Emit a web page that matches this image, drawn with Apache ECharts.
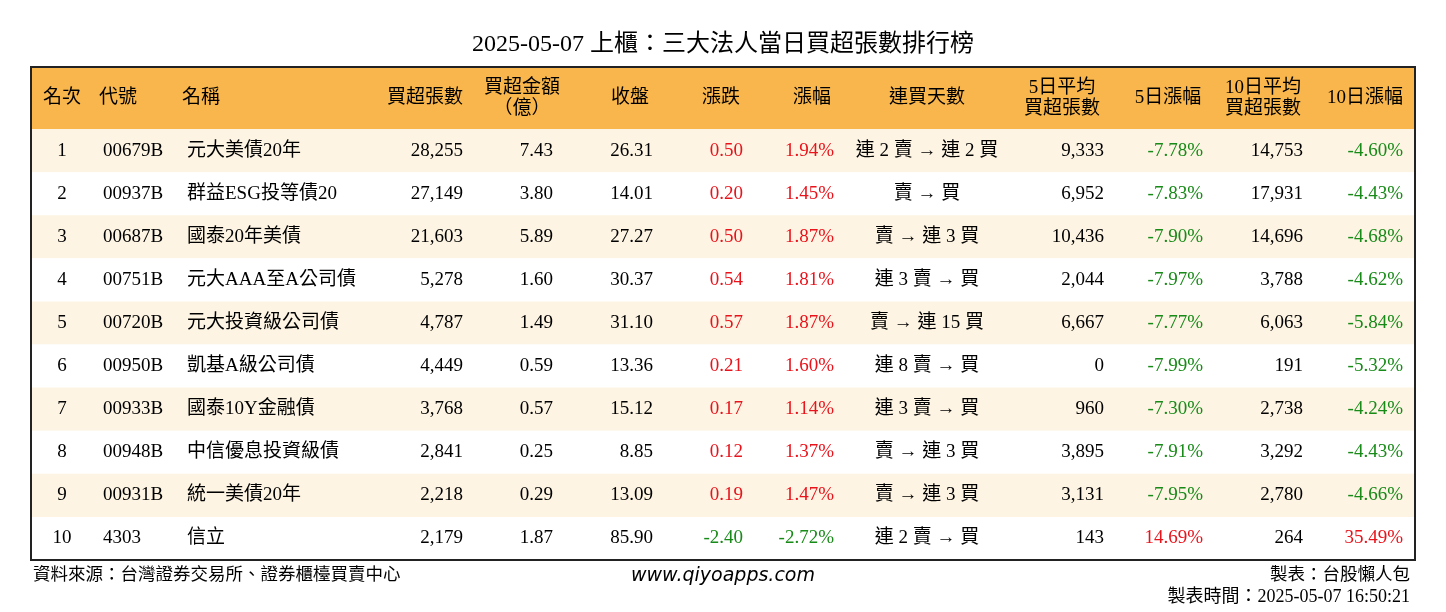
<!DOCTYPE html>
<html><head><meta charset="utf-8">
<script src="https://cdn.jsdelivr.net/npm/echarts@6/dist/echarts.min.js"></script>
<style>html,body{margin:0;background:#fff}#c{width:1446px;height:612px}</style>
</head><body><div id="c"></div>
<script>
const headers = ['名次','代號','名稱','買超張數','買超金額\n（億）','收盤','漲跌','漲幅','連買天數','5日平均\n買超張數','5日漲幅','10日平均\n買超張數','10日漲幅'];
const ranks = [1,2,3,4,5,6,7,8,9,10];
const codes = ['00679B','00937B','00687B','00751B','00720B','00950B','00933B','00948B','00931B','4303'];
const names = ['元大美債20年','群益ESG投等債20','國泰20年美債','元大AAA至A公司債','元大投資級公司債','凱基A級公司債','國泰10Y金融債','中信優息投資級債','統一美債20年','信立'];
const netBuy = [28255,27149,21603,5278,4787,4449,3768,2841,2218,2179];
const amount = [7.43,3.80,5.89,1.60,1.49,0.59,0.57,0.25,0.29,1.87];
const closePx = [26.31,14.01,27.27,30.37,31.10,13.36,15.12,8.85,13.09,85.90];
const change = [0.50,0.20,0.50,0.54,0.57,0.21,0.17,0.12,0.19,-2.40];
const changePct = [1.94,1.45,1.87,1.81,1.87,1.60,1.14,1.37,1.47,-2.72];
const streak = ['連 2 賣 → 連 2 買','賣 → 買','賣 → 連 3 買','連 3 賣 → 買','賣 → 連 15 買','連 8 賣 → 買','連 3 賣 → 買','賣 → 連 3 買','賣 → 連 3 買','連 2 賣 → 買'];
const avg5 = [9333,6952,10436,2044,6667,0,960,3895,3131,143];
const pct5 = [-7.78,-7.83,-7.90,-7.97,-7.77,-7.99,-7.30,-7.91,-7.95,14.69];
const avg10 = [14753,17931,14696,3788,6063,191,2738,3292,2780,264];
const pct10 = [-4.60,-4.43,-4.68,-4.62,-5.84,-5.32,-4.24,-4.43,-4.66,35.49];

const colHead = [31,87,170,394,491,599,690,781,896,1031,1137,1232,1334];
const colBody = [[31,'center'],[72,'left'],[156,'left'],[432,'right'],[522,'right'],[622,'right'],[712,'right'],[803,'right'],[896,'center'],[1073,'right'],[1172,'right'],[1272,'right'],[1372,'right']];
const RED='#e8131b', GREEN='#178a17';
const fmt=n=>n.toLocaleString('en-US');
const f2=n=>n.toFixed(2);
const pc=n=>n.toFixed(2)+'%';
const cl=n=>n>0?RED:(n<0?GREEN:'#000');
const HH=1.44;
const font='"Liberation Serif","Noto Sans CJK TC",serif';

const rows=[{cells:headers.map(h=>[h,'#000']),header:true}];
ranks.forEach((r,i)=>rows.push({cells:[
 [String(r),'#000'],[codes[i],'#000'],[names[i],'#000'],[fmt(netBuy[i]),'#000'],[f2(amount[i]),'#000'],[f2(closePx[i]),'#000'],
 [f2(change[i]),cl(change[i])],[pc(changePct[i]),cl(changePct[i])],[streak[i],'#000'],[fmt(avg5[i]),'#000'],
 [pc(pct5[i]),cl(pct5[i])],[fmt(avg10[i]),'#000'],[pc(pct10[i]),cl(pct10[i])]]}));

const chart=echarts.init(document.getElementById('c'));
chart.setOption({
 animation:false,
 title:{text:'2025-05-07 上櫃：三大法人當日買超張數排行榜',left:'center',top:28,textStyle:{fontFamily:font,fontSize:24,fontWeight:'normal',color:'#000'}},
 grid:{left:31,right:31,top:67,bottom:52},
 xAxis:{type:'value',min:0,max:1384,show:false},
 yAxis:{type:'value',min:0,max:HH+10,inverse:true,show:false},
 graphic:[
  {type:'text',left:33,top:567,style:{text:'資料來源：台灣證券交易所、證券櫃檯買賣中心',font:'17.5px '+font,fill:'#000'}},
  {type:'text',left:'center',top:567,style:{text:'www.qiyoapps.com',font:'italic 19px "DejaVu Sans",sans-serif',fill:'#000'}},
  {type:'text',right:36,top:567,style:{text:'製表：台股懶人包',font:'17.5px '+font,fill:'#000'}},
  {type:'text',right:36,top:588,style:{text:'製表時間：2025-05-07 16:50:21',font:'18px '+font,fill:'#000'}}
 ],
 series:[{type:'custom',data:rows.map((r,i)=>[i]),clip:false,
  renderItem:(params,api)=>{
   const idx=api.value(0); const row=rows[idx];
   const y0=idx===0?0:HH+idx-1, y1=idx===0?HH:HH+idx;
   const p0=api.coord([0,y0]), p1=api.coord([1384,y1]);
   const bg=row.header?'#f8b64c':(idx%2===1?'#fdf4e3':'#ffffff');
   const ch=[{type:'rect',shape:{x:p0[0],y:p0[1],width:p1[0]-p0[0],height:p1[1]-p0[1]},style:{fill:bg}}];
   const ym=(p0[1]+p1[1])/2;
   row.cells.forEach((c,j)=>{
     let x,al;
     if(row.header){x=api.coord([colHead[j],0])[0];al='center';}
     else{x=api.coord([colBody[j][0],0])[0];al=colBody[j][1];}
     ch.push({type:'text',style:{x:x,y:ym,text:c[0],fill:c[1],align:al,verticalAlign:'middle',font:'19px '+font,lineHeight:21}});
   });
   if(idx===rows.length-1){
     const a=api.coord([0,0]),b=api.coord([1384,HH+10]);
     ch.push({type:'rect',shape:{x:a[0],y:a[1],width:b[0]-a[0],height:b[1]-a[1]},style:{fill:'none',stroke:'#222',lineWidth:2}});
   }
   return {type:'group',children:ch};
  }}]
});
</script></body></html>
